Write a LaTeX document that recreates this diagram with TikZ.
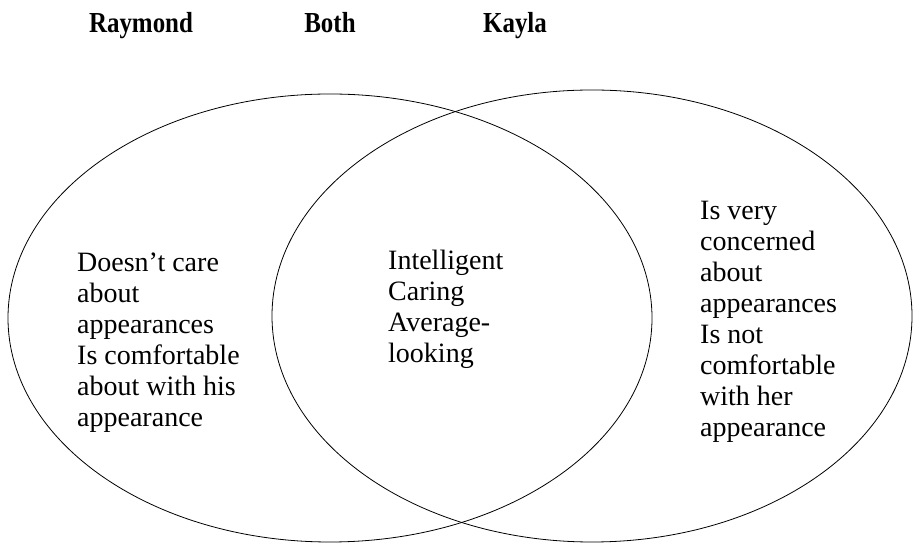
\documentclass[tikz,border=0pt]{standalone}
\usepackage{fontspec}
\setmainfont{Liberation Serif}
\newfontfamily\titlefont[FakeStretch=0.86]{Liberation Serif}
\begin{document}
\begin{tikzpicture}[x=1pt,y=1pt,
  circ/.style={draw=black,line width=0.8pt},
  title/.style={font=\titlefont\fontsize{29}{33}\selectfont\bfseries,anchor=base,inner sep=0pt},
  body/.style={font=\fontsize{28}{31}\selectfont,align=left,anchor=base west,inner sep=0pt}]
\useasboundingbox (0,0) rectangle (913,543);
\draw[circ] (330,225) ellipse [x radius=322, y radius=224];
\draw[circ] (592,227) ellipse [x radius=320, y radius=226];
\node[title] (ray) at (141,510) {Raymond};
\node[title] (both) at (330,510) {Both};
\node[title] (kay) at (515,510) {Kayla};
\node[body] (lt) at (77,116) {Doesn’t care\\about\\appearances\\Is comfortable\\about with his\\appearance};
\node[body] (mid) at (388,180) {Intelligent\\Caring\\Average-\\looking};
\node[body] (rt) at (700,106) {Is very\\concerned\\about\\appearances\\Is not\\comfortable\\with her\\appearance};
\end{tikzpicture}
\end{document}
